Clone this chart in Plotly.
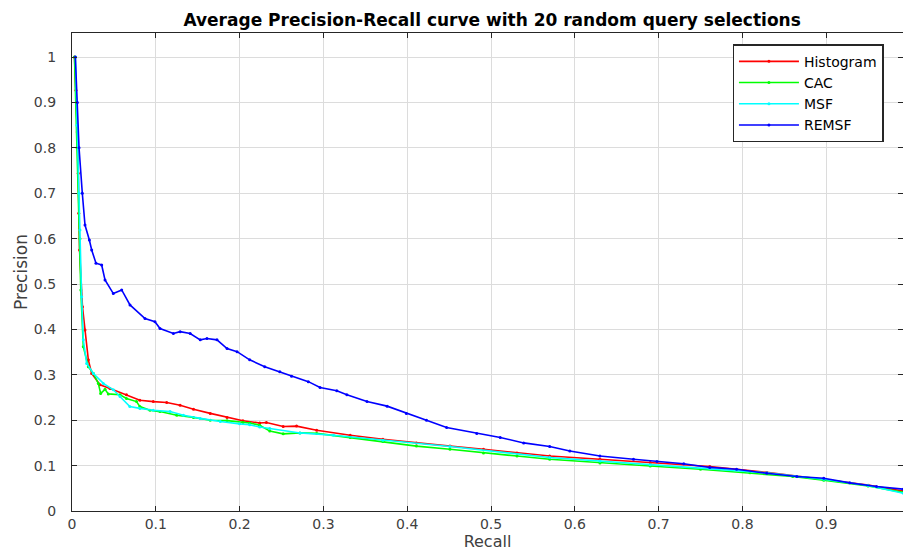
import plotly.graph_objects as go

# ---- data ----
recall_hist = [0.003, 0.0047, 0.0063, 0.0075, 0.0080, 0.0090, 0.0125, 0.0155, 0.0195, 0.0235, 0.0334, 0.0453,
               0.065, 0.081, 0.097, 0.113, 0.129, 0.145, 0.165, 0.185, 0.204, 0.224, 0.232, 0.252, 0.268,
               0.292, 0.332, 0.371, 0.411, 0.451, 0.491, 0.531, 0.570, 0.630, 0.690, 0.761, 0.829, 0.897,
               0.950, 0.992]
prec_hist = [1.0, 0.927, 0.835, 0.744, 0.656, 0.575, 0.45, 0.399, 0.333, 0.303, 0.278, 0.270,
             0.256, 0.244, 0.241, 0.239, 0.233, 0.224, 0.215, 0.206, 0.199, 0.194, 0.195, 0.186, 0.187,
             0.178, 0.167, 0.158, 0.150, 0.143, 0.136, 0.128, 0.121, 0.114, 0.107, 0.098, 0.085, 0.070,
             0.057, 0.044]

recall_cac = [0.003, 0.006, 0.0095, 0.0105, 0.0135, 0.0195, 0.0255, 0.0314, 0.0342, 0.0394, 0.0433, 0.0573,
              0.065, 0.077, 0.081, 0.093, 0.105, 0.125, 0.145, 0.165, 0.185, 0.204, 0.212, 0.224, 0.236,
              0.252, 0.272, 0.292, 0.332, 0.371, 0.411, 0.451, 0.491, 0.531, 0.570, 0.630, 0.690, 0.750,
              0.809, 0.860, 0.897, 0.950, 0.992]
prec_cac = [1.0, 0.8, 0.6, 0.487, 0.362, 0.318, 0.303, 0.281, 0.259, 0.268, 0.258, 0.256,
            0.248, 0.241, 0.230, 0.222, 0.219, 0.211, 0.206, 0.200, 0.199, 0.195, 0.194, 0.189, 0.176,
            0.170, 0.172, 0.171, 0.162, 0.153, 0.143, 0.136, 0.128, 0.121, 0.114, 0.106, 0.099, 0.092,
            0.084, 0.076, 0.068, 0.055, 0.041]

recall_msf = [0.004, 0.006, 0.0085, 0.0095, 0.0115, 0.0135, 0.0175, 0.0255, 0.0374, 0.0493, 0.0573, 0.069,
              0.081, 0.097, 0.117, 0.133, 0.153, 0.177, 0.200, 0.212, 0.224, 0.236, 0.272, 0.312, 0.371,
              0.451, 0.570, 0.630, 0.690, 0.761, 0.829, 0.897, 0.950, 0.992]
prec_msf = [1.0, 0.85, 0.70, 0.619, 0.472, 0.377, 0.325, 0.303, 0.281, 0.267, 0.252, 0.230,
            0.226, 0.222, 0.219, 0.211, 0.204, 0.197, 0.192, 0.190, 0.185, 0.182, 0.172, 0.167, 0.156,
            0.142, 0.118, 0.110, 0.102, 0.094, 0.084, 0.070, 0.056, 0.039]

recall_remsf = [0.004, 0.0064, 0.0084, 0.0123, 0.0155, 0.0207, 0.0235, 0.0286, 0.0354, 0.0394, 0.0493, 0.0593,
                0.0692, 0.0871, 0.099, 0.105, 0.121, 0.129, 0.141, 0.153, 0.161, 0.173, 0.185, 0.197,
                0.212, 0.230, 0.248, 0.262, 0.282, 0.296, 0.316, 0.328, 0.352, 0.376, 0.399, 0.423, 0.447,
                0.483, 0.511, 0.539, 0.570, 0.594, 0.630, 0.670, 0.698, 0.730, 0.761, 0.793, 0.829, 0.865,
                0.897, 0.928, 0.960, 0.992]
prec_remsf = [1.0, 0.9, 0.8, 0.7, 0.63, 0.597, 0.575, 0.546, 0.542, 0.509, 0.479, 0.487,
              0.454, 0.424, 0.417, 0.402, 0.391, 0.395, 0.391, 0.377, 0.380, 0.377, 0.358, 0.351,
              0.333, 0.318, 0.307, 0.297, 0.285, 0.272, 0.265, 0.256, 0.241, 0.231, 0.215, 0.200, 0.184,
              0.171, 0.162, 0.150, 0.142, 0.132, 0.121, 0.114, 0.109, 0.104, 0.096, 0.092, 0.083, 0.076,
              0.072, 0.062, 0.054, 0.048]

series = [
    ("Histogram", recall_hist, prec_hist, "#ff0000"),
    ("CAC", recall_cac, prec_cac, "#00ff00"),
    ("MSF", recall_msf, prec_msf, "#00ffff"),
    ("REMSF", recall_remsf, prec_remsf, "#0000ff"),
]

x_ticks = [0, 0.1, 0.2, 0.3, 0.4, 0.5, 0.6, 0.7, 0.8, 0.9, 1]
y_ticks = [0, 0.1, 0.2, 0.3, 0.4, 0.5, 0.6, 0.7, 0.8, 0.9, 1]

FONT = "DejaVu Sans, Liberation Sans, Arial"

fig = go.Figure()
for name, xs, ys, col in series:
    fig.add_trace(go.Scatter(x=xs, y=ys, name=name, mode="lines+markers",
                             line=dict(color=col, width=1.6),
                             marker=dict(color=col, size=3)))

axis_common = dict(showgrid=True, gridcolor="#dcdcdc", gridwidth=1,
                   showline=True, linecolor="#262626", linewidth=1.3, mirror="ticks",
                   ticks="inside", ticklen=5, tickcolor="#262626", zeroline=False,
                   tickfont=dict(family=FONT, size=14, color="#404040"))

fig.update_layout(
    width=903, height=551,
    margin=dict(l=72, r=0, t=33, b=40),
    plot_bgcolor="white", paper_bgcolor="white",
    title=dict(text="<b>Average Precision-Recall curve with 20 random query selections</b>",
               x=0.545, xanchor="center", y=1 - 20 / 551, yanchor="middle",
               font=dict(family=FONT, size=17, color="#000000")),
    xaxis=dict(range=[0, 0.9916], tickvals=x_ticks, ticktext=[str(v) for v in x_ticks],
               title=dict(text="Recall", standoff=0,
                          font=dict(family=FONT, size=16, color="#404040")),
               **axis_common),
    yaxis=dict(range=[0, 1.053], tickvals=y_ticks, ticktext=[str(v) for v in y_ticks],
               ticklabelstandoff=12,
               title=dict(text="Precision", standoff=1,
                          font=dict(family=FONT, size=17, color="#404040")),
               **axis_common),
    legend=dict(x=0.795, y=0.976, xanchor="left", yanchor="top",
                bgcolor="white", bordercolor="#262626", borderwidth=1.3,
                font=dict(family=FONT, size=14, color="#000000"),
                tracegroupgap=0, itemwidth=60),
    showlegend=True,
)

fig.write_html("out.html", config={"displayModeBar": False},
               post_script="document.body.style.margin='0px';")
